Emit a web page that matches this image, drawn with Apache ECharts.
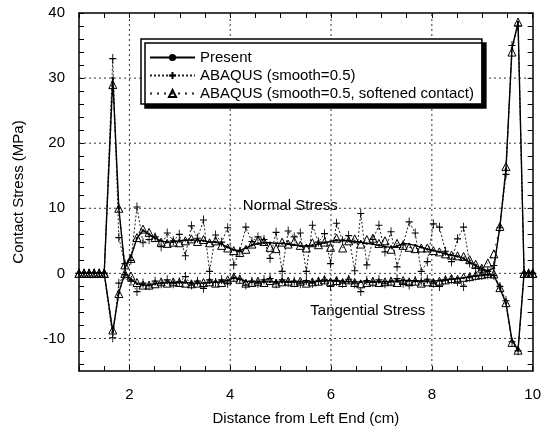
<!DOCTYPE html>
<html>
<head>
<meta charset="utf-8">
<script src="https://cdn.jsdelivr.net/npm/echarts@6/dist/echarts.min.js"></script>
<style>
  html, body { margin: 0; padding: 0; background: #fff; }
  #main { width: 544px; height: 433px; }
</style>
</head>
<body>
<div id="main"></div>
<script>
// node positions along the strip (cm)
var xNodes = [1.0, 1.1, 1.2, 1.3, 1.4, 1.5,
    1.67, 1.79, 1.91, 2.03, 2.15, 2.27, 2.39, 2.51, 2.63, 2.75,
    2.87, 2.99, 3.11, 3.23, 3.35, 3.47, 3.59, 3.71, 3.83, 3.95,
    4.07, 4.19, 4.31, 4.43, 4.55, 4.67, 4.79, 4.91, 5.03, 5.15,
    5.27, 5.39, 5.51, 5.63, 5.75, 5.87, 5.99, 6.11, 6.23, 6.35,
    6.47, 6.59, 6.71, 6.83, 6.95, 7.07, 7.19, 7.31, 7.43, 7.55,
    7.67, 7.79, 7.91, 8.03, 8.15, 8.27, 8.39, 8.51, 8.63, 8.75,
    8.87, 8.99, 9.11, 9.23, 9.35, 9.47, 9.59, 9.71, 9.83, 9.92, 10.0];

var presentNormal = [0, 0, 0, 0, 0, 0,
    30, 10, 0.8, 2.6, 5.4, 6.6, 6.0, 5.4, 5.0, 4.8,
    4.8, 5.0, 5.1, 5.1, 5.1, 5.0, 4.8, 4.8, 4.5, 4.0,
    3.6, 3.5, 3.9, 4.3, 4.6, 4.7, 4.7, 4.6, 4.6, 4.5,
    4.4, 4.2, 4.2, 4.3, 4.5, 4.7, 4.9, 5.1, 5.1, 5.0,
    4.9, 4.8, 4.6, 4.5, 4.3, 4.1, 4.0, 4.2, 4.6, 4.5,
    4.3, 4.0, 3.7, 3.5, 3.3, 3.0, 2.8, 2.6, 2.3, 1.7,
    1.2, 0.7, 0.4, 0.8, 7.2, 16, 34.5, 38.6, 0, 0, 0];
var presentTangential = [0, 0, 0, 0, 0, 0,
    -9, -3, 0.1, -0.9, -1.6, -1.8, -1.8, -1.6, -1.5, -1.4,
    -1.4, -1.4, -1.4, -1.5, -1.5, -1.5, -1.4, -1.3, -1.3, -1.1,
    -0.7, -0.9, -1.2, -1.3, -1.3, -1.3, -1.3, -1.3, -1.3, -1.3,
    -1.3, -1.3, -1.3, -1.3, -1.2, -1.2, -1.1, -1.1, -1.2, -1.3,
    -1.3, -1.3, -1.3, -1.3, -1.3, -1.3, -1.2, -1.2, -1.1, -1.1,
    -1.2, -1.2, -1.2, -1.2, -1.1, -1.0, -0.9, -0.8, -0.7, -0.5,
    -0.4, -0.3, -0.2, -0.3, -2.3, -4.6, -10.3, -11.8, 0, 0, 0];

var smoothNormal = [0, 0, 0, 0, 0, 0,
    33, 5.5, 1.5, 2.0, 10.2, 4.7, 5.2, 5.6, 4.1, 6.2,
    5.0, 6.0, 2.7, 7.3, 5.4, 8.2, 0.3, 5.9, 4.8, 7.0,
    1.3, 3.4, 7.1, 4.9, 5.6, 5.2, 2.3, 6.3, 0.3, 6.5,
    5.6, 6.2, 0.3, 7.4, 4.8, 6.1, 1.5, 7.7, 5.0, 5.8,
    0.4, 9.2, 1.3, 5.2, 7.4, 3.3, 6.4, 1.0, 4.4, 7.9,
    6.2, 0.3, 1.8, 7.6, 7.1, 3.4, 1.8, 5.3, 7.1, 1.6,
    0.8, 0.5, 0.3, 1.2, 7.0, 15.2, 35, 38, 0, 0, 0];
var smoothTangential = [0, 0, 0, 0, 0, 0,
    -9.9, -1.5, -0.2, -1.2, -2.8, -1.5, -1.9, -1.2, -1.6, -1.0,
    -1.6, -1.3, -0.5, -1.8, -1.2, -2.3, -1.0, -1.4, -1.0, -1.5,
    -0.6, -0.9, -1.8, -1.2, -1.5, -1.0, -0.8, -1.6, -1.0, -1.4,
    -1.2, -1.6, -1.1, -1.5, -1.2, -1.0, -2.0, -1.2, -1.5, -0.9,
    -1.6, -2.8, -1.1, -1.4, -1.0, -1.6, -1.3, -0.8, -1.5, -1.8,
    -1.1, -1.2, -0.9, -1.5, -2.0, -1.0, -0.9, -1.3, -2.0, -0.6,
    -0.4, -0.3, -0.2, -0.3, -2.0, -4.2, -10.5, -11.9, 0, 0, 0];

var softNormal = [0, 0, 0, 0, 0, 0,
    29, 10, 1.3, 2.3, 5.5, 6.8, 6.3, 5.5, 4.8, 4.6,
    4.8, 4.7, 5.0, 5.3, 4.9, 5.2, 4.7, 5.0, 4.3, 3.9,
    3.5, 3.2, 3.7, 4.5, 5.1, 4.9, 4.0, 3.8, 4.8, 4.5,
    4.9, 4.3, 3.9, 4.7, 4.4, 4.8, 4.0, 5.4, 3.9, 5.0,
    5.3, 4.5, 5.2, 5.4, 4.6, 5.0, 3.7, 4.6, 4.3, 4.0,
    3.8, 3.9, 3.9, 3.5, 3.3, 3.0, 2.8, 2.7, 2.6, 2.1,
    1.4, 0.8, 1.6, 3.0, 7.2, 16.4, 34, 38.6, 0, 0, 0];
var softTangential = [0, 0, 0, 0, 0, 0,
    -8.7, -3.1, 0.0, -0.4, -1.4, -1.8, -1.8, -1.6, -1.3, -1.5,
    -1.3, -1.4, -1.5, -1.6, -1.5, -1.4, -1.3, -1.5, -1.4, -1.0,
    -0.6, -0.9, -1.5, -1.4, -1.2, -1.4, -1.1, -1.5, -1.3, -1.2,
    -1.4, -1.2, -1.5, -1.3, -1.2, -1.0, -1.3, -1.1, -1.4, -1.0,
    -1.4, -1.6, -1.4, -1.2, -1.4, -1.3, -1.2, -1.4, -1.1, -1.3,
    -1.2, -1.5, -1.3, -1.4, -1.2, -1.0, -0.8, -0.9, -0.6, -0.5,
    -0.3, -0.2, 0.0, -0.1, -2.2, -4.5, -10.6, -11.8, 0, 0, 0];

var gridX = [2, 4, 6, 8];
var gridY = [-10, 0, 10, 20, 30];
var yTicks = [-14, -12, -10, -8, -6, -4, -2, 0, 2, 4, 6, 8, 10, 12, 14, 16, 18, 20,
    22, 24, 26, 28, 30, 32, 34, 36, 38, 40];
var yLabels = [-10, 0, 10, 20, 30, 40];

var names = ['Present', 'ABAQUS (smooth=0.5)', 'ABAQUS (smooth=0.5, softened contact)'];

function pairs(ys) {
    return xNodes.map(function (x, i) { return [x, ys[i]]; });
}

var font = 'Liberation Sans, Arial, Helvetica, sans-serif';
var plusPath = 'path://M5 0L5 10M0 5L10 5';

var myChart = echarts.init(document.getElementById('main'), null, { renderer: 'canvas' });

function smoothSeries(ys) {
    return {
        name: names[1], type: 'line', data: pairs(ys),
        symbol: plusPath, symbolSize: [7, 9], symbolKeepAspect: false,
        lineStyle: { type: [2, 2], width: 1, color: '#222' },
        itemStyle: { color: 'transparent', borderColor: '#000', borderWidth: 1 },
        z: 3
    };
}
function softSeries(ys) {
    return {
        name: names[2], type: 'line', data: pairs(ys),
        symbol: 'triangle', symbolSize: 8,
        lineStyle: { type: [2, 5], width: 1, color: '#222' },
        itemStyle: { color: 'transparent', borderColor: '#000', borderWidth: 1 },
        z: 4
    };
}
function presentSeries(ys) {
    return {
        name: names[0], type: 'line', data: pairs(ys),
        symbol: 'circle', symbolSize: 2.5,
        lineStyle: { width: 1.4, color: '#000' },
        itemStyle: { color: '#000' },
        z: 5
    };
}

var tickStyle = { show: true, inside: true, length: 5, lineStyle: { color: '#000', width: 1 } };
var lineStyle = { show: true, onZero: false, lineStyle: { color: '#000', width: 1.5 } };

option = {
    animation: false,
    backgroundColor: '#fff',
    textStyle: { fontFamily: font, color: '#000' },
    grid: { left: 79, right: 11, top: 13, bottom: 62 },
    legend: {
        data: names,
        orient: 'vertical',
        left: 141, top: 39,
        itemWidth: 45, itemHeight: 9, itemGap: 3,
        padding: [11, 8, 3, 8],
        backgroundColor: '#fff',
        borderColor: '#000', borderWidth: 1.5,
        shadowColor: '#000', shadowOffsetX: 4, shadowOffsetY: 4, shadowBlur: 0,
        selectedMode: false,
        textStyle: { fontFamily: font, fontSize: 15, color: '#000' }
    },
    xAxis: [{
        type: 'value', min: 1, max: 10, interval: 0.5, position: 'bottom',
        name: 'Distance from Left End (cm)', nameLocation: 'middle', nameGap: 40,
        nameTextStyle: { fontFamily: font, fontSize: 15, color: '#000' },
        axisLine: lineStyle, axisTick: tickStyle,
        axisLabel: {
            fontFamily: font, fontSize: 15, color: '#000', margin: 16,
            formatter: function (v) { return v % 2 === 0 ? String(v) : ''; }
        },
        splitLine: { show: false }
    }, {
        type: 'value', min: 1, max: 10, interval: 0.5, position: 'top',
        axisLine: lineStyle, axisTick: tickStyle,
        axisLabel: { show: false }, splitLine: { show: false }
    }],
    yAxis: [{
        type: 'value', min: -15, max: 40, position: 'left',
        name: 'Contact Stress (MPa)', nameLocation: 'middle', nameGap: 53,
        nameTextStyle: { fontFamily: font, fontSize: 15, color: '#000' },
        axisLine: lineStyle,
        axisTick: { show: true, inside: true, length: 5, customValues: yTicks, lineStyle: { color: '#000' } },
        axisLabel: { fontFamily: font, fontSize: 15, color: '#000', margin: 14, customValues: yLabels },
        splitLine: { show: false }
    }, {
        type: 'value', min: -15, max: 40, position: 'right',
        axisLine: lineStyle,
        axisTick: { show: true, inside: true, length: 5, customValues: yTicks, lineStyle: { color: '#000' } },
        axisLabel: { show: false }, splitLine: { show: false }
    }],
    series: [
        smoothSeries(smoothNormal),
        smoothSeries(smoothTangential),
        softSeries(softNormal),
        softSeries(softTangential),
        presentSeries(presentNormal),
        presentSeries(presentTangential)
    ]
};
myChart.setOption(option);

// dotted grid at the major ticks and the curve labels, placed through the axes
function px(x, y) {
    return myChart.convertToPixel({ xAxisIndex: 0, yAxisIndex: 0 }, [x, y]);
}
var gridStyle = { stroke: '#333', lineWidth: 1, lineDash: [2, 3] };
var graphics = [];
gridX.forEach(function (v) {
    var a = px(v, -15), b = px(v, 40);
    graphics.push({ type: 'line', z: 1, silent: true,
        shape: { x1: a[0], y1: a[1], x2: b[0], y2: b[1] }, style: gridStyle });
});
gridY.forEach(function (v) {
    var a = px(1, v), b = px(10, v);
    graphics.push({ type: 'line', z: 1, silent: true,
        shape: { x1: a[0], y1: a[1], x2: b[0], y2: b[1] }, style: gridStyle });
});
var p1 = px(4.25, 10.3);
var p2 = px(6.73, -5.7);
graphics.push({ type: 'text', x: p1[0], y: p1[1], z: 10,
    style: { text: 'Normal Stress', font: '15px ' + font, fill: '#000', textVerticalAlign: 'middle' } });
graphics.push({ type: 'text', x: p2[0], y: p2[1], z: 10,
    style: { text: 'Tangential Stress', font: '15px ' + font, fill: '#000', textAlign: 'center', textVerticalAlign: 'middle' } });
myChart.setOption({ graphic: graphics });
</script>
</body>
</html>
